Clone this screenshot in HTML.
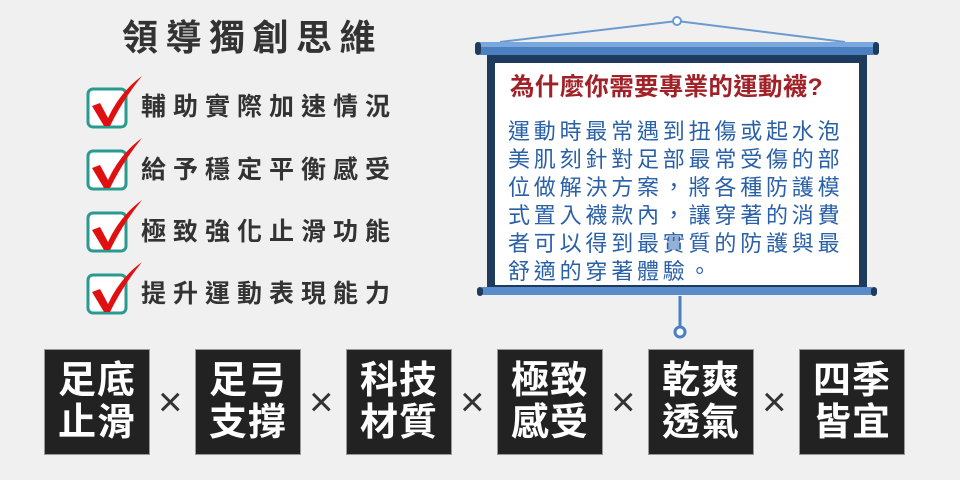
<!DOCTYPE html>
<html><head><meta charset="utf-8"><style>
body{margin:0;width:960px;height:480px;background:#f0f0f0;overflow:hidden;position:relative;font-family:"Liberation Sans","Noto Sans CJK TC",sans-serif}
.a{position:absolute;white-space:nowrap}
.t{left:122px;top:16px;font-size:36px;font-weight:bold;color:#333;letter-spacing:7.5px;line-height:44px}
.li{left:141px;font-size:25px;font-weight:bold;color:#333;letter-spacing:7px;line-height:30px}
.bx{position:absolute;top:349px;width:106px;height:106px;background:#222;border:1px solid #999;box-sizing:border-box;color:#fff;font-size:38px;font-weight:bold;line-height:42px;text-align:center;padding-top:10px;letter-spacing:1px}
.x{position:absolute;top:380px;font-size:42px;color:#333;line-height:44px}
.st{left:510px;top:73px;font-size:24.5px;font-weight:bold;color:#a02228;line-height:30px;letter-spacing:0.3px}
.sb{left:508px;top:118px;font-size:22px;color:#2a60a8;letter-spacing:3.8px;line-height:28px}
</style></head><body>
<svg class="a" style="left:0;top:0" width="960" height="480">
<line x1="677" y1="21" x2="500" y2="42" stroke="#6b9ad0" stroke-width="2"/>
<line x1="677" y1="21" x2="845" y2="42" stroke="#6b9ad0" stroke-width="2"/>
<circle cx="677" cy="21" r="4" fill="#fff" stroke="#6b9ad0" stroke-width="2"/>
<rect x="487" y="55" width="380" height="235" fill="#1e3a5c"/>
<rect x="495" y="63" width="364" height="222" fill="#fff"/>
<rect x="477" y="42" width="400" height="13" rx="4" fill="#4a80c0"/>
<rect x="477" y="42" width="400" height="5" fill="#7aa8dc"/>
<rect x="475" y="42" width="6" height="13" rx="3" fill="#1e3a5c"/>
<rect x="873" y="42" width="6" height="13" rx="3" fill="#1e3a5c"/>
<rect x="480" y="287" width="394" height="8" rx="3" fill="#5a8ccc"/>
<rect x="477" y="287" width="6" height="9" rx="3" fill="#1e3a5c"/>
<rect x="871" y="287" width="6" height="9" rx="3" fill="#1e3a5c"/>
<line x1="680" y1="296" x2="680" y2="327" stroke="#4a80c0" stroke-width="3"/>
<circle cx="680" cy="332" r="5" fill="#fff" stroke="#4a80c0" stroke-width="3"/>
<g id="c">
<rect x="88" y="89" width="38" height="38" rx="5" fill="#fff" stroke="#2a9a90" stroke-width="3"/>
<path d="M92 106 L100 103 L108 118 Q120 92 142 76 Q124 98 110 126 L104 126 Z" fill="#e01010"/>
</g>
<use href="#c" y="62"/><use href="#c" y="124"/><use href="#c" y="186"/>
</svg>
<div class="a t">領導獨創思維</div>
<div class="a li" style="top:92px">輔助實際加速情況</div>
<div class="a li" style="top:155px">給予穩定平衡感受</div>
<div class="a li" style="top:217px">極致強化止滑功能</div>
<div class="a li" style="top:279px">提升運動表現能力</div>
<div class="a st">為什麼你需要專業的運動襪?</div>
<div class="a sb">運動時最常遇到扭傷或起水泡<br>美肌刻針對足部最常受傷的部<br>位做解決方案，將各種防護模<br>式置入襪款內，讓穿著的消費<br>者可以得到最實質的防護與最<br>舒適的穿著體驗。</div>
<div class="bx" style="left:44px">足底<br>止滑</div>
<div class="x" style="left:158px">×</div>
<div class="bx" style="left:195px">足弓<br>支撐</div>
<div class="x" style="left:309px">×</div>
<div class="bx" style="left:346px">科技<br>材質</div>
<div class="x" style="left:460px">×</div>
<div class="bx" style="left:497px">極致<br>感受</div>
<div class="x" style="left:611px">×</div>
<div class="bx" style="left:648px">乾爽<br>透氣</div>
<div class="x" style="left:762px">×</div>
<div class="bx" style="left:799px">四季<br>皆宜</div>
</body></html>
